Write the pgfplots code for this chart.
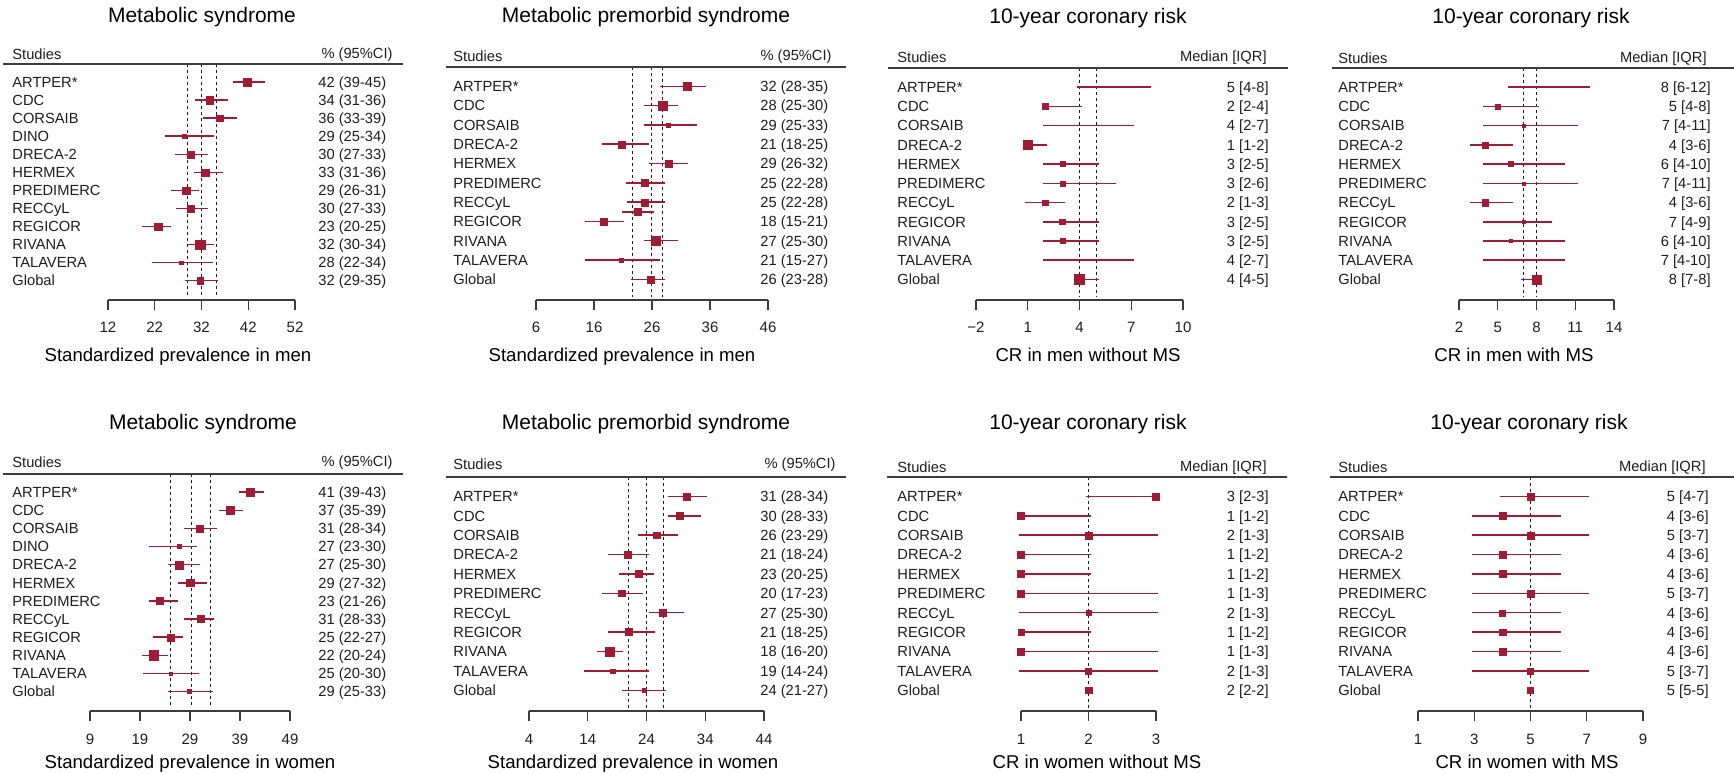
\documentclass[border=0pt]{standalone}
\usepackage{fontspec}
\setmainfont{Liberation Sans}
\usepackage{pgfplots}
\usepackage{pgfplotstable}
\pgfplotsset{compat=1.18}
\definecolor{fpr}{RGB}{160,28,52}
\definecolor{txt}{RGB}{30,30,30}
\definecolor{axc}{RGB}{60,60,60}

% r = -(row index), m = point, lo/hi = interval, s = square side (px)
\pgfplotstableread{
r m lo hi s
0 41.8 39.2 45.1 7.5
-1 33.7 31.0 37.1 7.7
-2 35.8 32.9 39.0 6.8
-3 28.3 24.7 34.1 3.8
-4 29.7 26.9 33.0 6.8
-5 32.8 30.8 36.0 7.3
-6 28.7 25.9 31.0 7.2
-7 29.7 27.1 33.0 7.0
-8 22.7 19.7 25.0 7.2
-9 31.7 29.6 34.1 9.7
-10 27.7 22.0 34.0 3.8
-11 31.7 28.9 35.1 6.8
}\tA
\pgfplotstableread{
r m lo hi s
0 32.0 27.8 34.9 7.8
-1 27.8 25.1 30.0 8.8
-2 28.8 25.1 33.3 4.5
-3 20.7 17.7 25.0 7.0
-4 28.9 25.9 31.8 7.3
-5 24.8 21.9 27.8 7.0
-6 24.8 22.0 27.8 7.0
-6.5 23.5 21.2 25.9 7.0
-7 17.7 14.8 20.8 7.0
-8 26.7 25.1 30.1 9.0
-9 20.7 14.8 27.0 4.0
-10 25.8 22.7 27.8 7.3
}\tB
\pgfplotstableread{
r m lo hi s
0 5 4 8 0
-1 2 2 4 5.8
-2 4 2 7 0
-3 1 1 2 9
-4 3 2 5 5
-5 3 2 6 5
-6 2 1 3 5.5
-7 3 2 5 5.5
-8 3 2 5 5
-9 4 2 7 0
-10 4 4 5 10
}\tC
\pgfplotstableread{
r m lo hi s
0 8 6 12 0
-1 5 4 8 5
-2 7 4 11 3.5
-3 4 3 6 6
-4 6 4 10 5
-5 7 4 11 3
-6 4 3 6 6.5
-7 7 4 9 3
-8 6 4 10 3
-9 7 4 10 0
-10 8 7 8 9
}\tD
\pgfplotstableread{
r m lo hi s
0 41.1 39.3 43.3 8
-1 37.1 35.3 39.2 8
-2 31.0 28.3 34.0 7
-3 26.9 21.3 29.9 4
-4 26.9 25.0 30.5 8
-5 29.0 27.1 31.9 7.5
-6 23.0 21.3 26.2 7
-7 31.1 28.3 33.3 7
-8 25.1 22.1 27.1 7
-9 21.7 19.8 24.1 9.5
-10 25.1 20.0 30.4 3
-11 28.9 25.1 33.1 4
}\tE
\pgfplotstableread{
r m lo hi s
0 30.8 28.1 33.9 6.5
-1 29.6 28.1 32.9 7.5
-2 25.7 22.9 28.9 6.5
-3 20.8 17.8 24.0 7
-4 22.7 19.7 24.8 7
-5 19.8 16.8 23.0 6.5
-6 26.8 24.9 30.0 7
-7 20.9 17.8 25.0 7
-8 17.7 16.0 19.6 9
-9 18.2 13.8 24.0 4.5
-10 23.6 20.3 27.0 4.5
}\tF
\pgfplotstableread{
r m lo hi s
0 3 2 3 7
-1 1 1 2 7
-2 2 1 3 7
-3 1 1 2 7
-4 1 1 2 7
-5 1 1 3 7
-6 2 1 3 5.5
-7 1 1 2 6
-8 1 1 3 7
-9 2 1 3 6
-10 2 2 2 6.5
}\tG
\pgfplotstableread{
r m lo hi s
0 5 4 7 7
-1 4 3 6 7.5
-2 5 3 7 7
-3 4 3 6 7
-4 4 3 6 7
-5 5 3 7 7
-6 4 3 6 6
-7 4 3 6 6.5
-8 4 3 6 6.5
-9 5 3 7 6
-10 5 5 5 6
}\tH

\pgfplotsset{
  fp/.style={scale only axis, anchor=south west, clip=false,
    axis line style={draw=none}, ytick=\empty, tick pos=left, xtick align=outside,
    major tick length=5pt, tick style={draw=axc, line width=0.65pt},
    xticklabel style={font=\fontsize{7.5pt}{9pt}\selectfont, text=txt, anchor=base, yshift=-11.5pt},
    /pgf/number format/assume math mode=true, scaled x ticks=false},
  fpmk/.style={scatter, only marks, mark=square*,
    scatter/use mapped color={draw=fpr, fill=fpr},
    mark options={line width=0.1pt},
    visualization depends on={\thisrow{s}/4 \as \fpmsz},
    scatter/@pre marker code/.append style={/tikz/mark size=\fpmsz}},
  fpeb/.style={draw=none, mark=none,
    error bars/.cd, x dir=both, x explicit,
    error bar style={line width=0.75pt, draw=fpr, solid},
    error mark options={line width=0.75pt, draw=fpr, mark size=1.15pt, solid}},
  dl/.style={draw=txt, line width=0.5pt, dash pattern=on 1.4pt off 1.6pt},
}
\newcommand\fpdata[1]{%
  \addplot[fpeb] table[x=m, y=r, x error minus expr=\thisrow{m}-\thisrow{lo}, x error plus expr=\thisrow{hi}-\thisrow{m}] {#1};
  \addplot[fpmk] table[x=m, y=r] {#1};}
\newcommand\fb{\fontsize{7.35pt}{8.8pt}\selectfont}
\def\namesA{ARTPER*,CDC,CORSAIB,DINO,DRECA-2,HERMEX,PREDIMERC,RECCyL,REGICOR,RIVANA,TALAVERA,Global}
\def\namesB{ARTPER*,CDC,CORSAIB,DRECA-2,HERMEX,PREDIMERC,RECCyL,REGICOR,RIVANA,TALAVERA,Global}

\begin{document}
\begin{tikzpicture}
\path[use as bounding box] (0pt,0pt) rectangle (867pt,-387pt);

% ---------- Panel 1
\begin{axis}[fp, at={(54pt,-150pt)}, width=93.5pt, height=118pt, xmin=12, xmax=52, ymin=-12.07, ymax=1, xtick={12,22,32,42,52}]
\addplot[dl] coordinates {(28.9,1) (28.9,-11.9)};
\addplot[dl] coordinates {(32,1) (32,-11.9)};
\addplot[dl] coordinates {(35.2,1) (35.2,-11.9)};
\fpdata{\tA}
\draw[axc, line width=0.65pt] (axis cs:12,-12.07) -- (axis cs:52,-12.07);
\end{axis}
% ---------- Panel 2
\begin{axis}[fp, at={(268pt,-150pt)}, width=116pt, height=116.5pt, xmin=6, xmax=46, ymin=-11.07, ymax=1, xtick={6,16,26,36,46}]
\addplot[dl] coordinates {(22.6,1) (22.6,-10.9)};
\addplot[dl] coordinates {(25.9,1) (25.9,-10.9)};
\addplot[dl] coordinates {(27.8,1) (27.8,-10.9)};
\fpdata{\tB}
\draw[axc, line width=0.65pt] (axis cs:6,-11.07) -- (axis cs:46,-11.07);
\end{axis}
% ---------- Panel 3
\begin{axis}[fp, at={(488pt,-150pt)}, width=103.5pt, height=116pt, xmin=-2, xmax=10, ymin=-11.07, ymax=1, xtick={-2,1,4,7,10}, xticklabels={−2,1,4,7,10}]
\addplot[dl] coordinates {(4,1) (4,-10.9)};
\addplot[dl] coordinates {(5,1) (5,-10.9)};
\fpdata{\tC}
\draw[axc, line width=0.65pt] (axis cs:-2,-11.07) -- (axis cs:10,-11.07);
\end{axis}
% ---------- Panel 4
\begin{axis}[fp, at={(729.5pt,-150pt)}, width=77.5pt, height=116pt, xmin=2, xmax=14, ymin=-11.07, ymax=1, xtick={2,5,8,11,14}]
\addplot[dl] coordinates {(7,1) (7,-10.9)};
\addplot[dl] coordinates {(8,1) (8,-10.9)};
\fpdata{\tD}
\draw[axc, line width=0.65pt] (axis cs:2,-11.07) -- (axis cs:14,-11.07);
\end{axis}
% ---------- Panel 5
\begin{axis}[fp, at={(45pt,-355.5pt)}, width=100pt, height=118.5pt, xmin=9, xmax=49, ymin=-12.07, ymax=1, xtick={9,19,29,39,49}]
\addplot[dl] coordinates {(25,1) (25,-11.9)};
\addplot[dl] coordinates {(29.2,1) (29.2,-11.9)};
\addplot[dl] coordinates {(33.1,1) (33.1,-11.9)};
\fpdata{\tE}
\draw[axc, line width=0.65pt] (axis cs:9,-12.07) -- (axis cs:49,-12.07);
\end{axis}
% ---------- Panel 6
\begin{axis}[fp, at={(264.5pt,-355.5pt)}, width=117.5pt, height=117pt, xmin=4, xmax=44, ymin=-11.07, ymax=1, xtick={4,14,24,34,44}]
\addplot[dl] coordinates {(20.9,1) (20.9,-10.9)};
\addplot[dl] coordinates {(24,1) (24,-10.9)};
\addplot[dl] coordinates {(26.9,1) (26.9,-10.9)};
\fpdata{\tF}
\draw[axc, line width=0.65pt] (axis cs:4,-11.07) -- (axis cs:44,-11.07);
\end{axis}
% ---------- Panel 7
\begin{axis}[fp, at={(510.5pt,-355.5pt)}, width=67.5pt, height=117pt, xmin=1, xmax=3, ymin=-11.07, ymax=1, xtick={1,2,3}]
\addplot[dl] coordinates {(2,1) (2,-10.9)};
\fpdata{\tG}
\draw[axc, line width=0.65pt] (axis cs:1,-11.07) -- (axis cs:3,-11.07);
\end{axis}
% ---------- Panel 8
\begin{axis}[fp, at={(709pt,-355.5pt)}, width=112.5pt, height=117pt, xmin=1, xmax=9, ymin=-11.07, ymax=1, xtick={1,3,5,7,9}]
\addplot[dl] coordinates {(5,1) (5,-10.9)};
\fpdata{\tH}
\draw[axc, line width=0.65pt] (axis cs:1,-11.07) -- (axis cs:9,-11.07);
\end{axis}

% ---------- texts (pixel coordinates)
\begin{scope}[x=0.5pt, y=-0.5pt,
  rowt/.style={font=\fb, text=txt, inner sep=0pt, text height=5.3pt, text depth=0pt},
  hd/.style={font=\fb, text=txt, inner sep=0pt},
  ttl/.style={font=\fontsize{10.5pt}{12pt}\selectfont, text=black, inner sep=0pt, anchor=base},
  xl/.style={font=\fontsize{9.3pt}{11pt}\selectfont, text=black, inner sep=0pt, anchor=base},
  rl/.style={draw=axc, line width=0.85pt}]
% Panel 1
\node[ttl] at (202,23) {Metabolic syndrome};
\node[hd, anchor=base west] at (12,60) {Studies};
\node[hd, anchor=base east] at (393,59) {\% (95\%CI)};
\draw[rl] (3,64) -- (403,64);
\foreach \t [count=\i from 0] in \namesA {\node[rowt, anchor=west] at (12,{64+(\i+1)*18.057}) {\t};}
\foreach \t [count=\i from 0] in {{42 (39-45)},{34 (31-36)},{36 (33-39)},{29 (25-34)},{30 (27-33)},{33 (31-36)},{29 (26-31)},{30 (27-33)},{23 (20-25)},{32 (30-34)},{28 (22-34)},{32 (29-35)}}
  {\node[rowt, anchor=west] at (318,{64+(\i+1)*18.057}) {\t};}
\node[xl] at (178,361.7) {Standardized prevalence in men};
% Panel 2
\node[ttl] at (646,23) {Metabolic premorbid syndrome};
\node[hd, anchor=base west] at (453,61.7) {Studies};
\node[hd, anchor=base east] at (832,61) {\% (95\%CI)};
\draw[rl] (446,67) -- (846,67);
\foreach \t [count=\i from 0] in \namesB {\node[rowt, anchor=west] at (453,{67+(\i+1)*19.304}) {\t};}
\foreach \t [count=\i from 0] in {{32 (28-35)},{28 (25-30)},{29 (25-33)},{21 (18-25)},{29 (26-32)},{25 (22-28)},{25 (22-28)},{18 (15-21)},{27 (25-30)},{21 (15-27)},{26 (23-28)}}
  {\node[rowt, anchor=west] at (760,{67+(\i+1)*19.304}) {\t};}
\node[xl] at (622,361.7) {Standardized prevalence in men};
% Panel 3
\node[ttl] at (1088,23.3) {10-year coronary risk};
\node[hd, anchor=base west] at (897,62.7) {Studies};
\node[hd, anchor=base east] at (1267,62) {Median [IQR]};
\draw[rl] (888,68) -- (1288,68);
\foreach \t [count=\i from 0] in \namesB {\node[rowt, anchor=west] at (897,{68+(\i+1)*19.221}) {\t};}
\foreach \t [count=\i from 0] in {{5 [4-8]},{2 [2-4]},{4 [2-7]},{1 [1-2]},{3 [2-5]},{3 [2-6]},{2 [1-3]},{3 [2-5]},{3 [2-5]},{4 [2-7]},{4 [4-5]}}
  {\node[rowt, anchor=east] at (1269,{68+(\i+1)*19.221}) {\t};}
\node[xl] at (1088,361.7) {CR in men without MS};
% Panel 4
\node[ttl] at (1531,23.3) {10-year coronary risk};
\node[hd, anchor=base west] at (1338,63.3) {Studies};
\node[hd, anchor=base east] at (1707,62.5) {Median [IQR]};
\draw[rl] (1332,68) -- (1734,68);
\foreach \t [count=\i from 0] in \namesB {\node[rowt, anchor=west] at (1338,{68+(\i+1)*19.221}) {\t};}
\foreach \t [count=\i from 0] in {{8 [6-12]},{5 [4-8]},{7 [4-11]},{4 [3-6]},{6 [4-10]},{7 [4-11]},{4 [3-6]},{7 [4-9]},{6 [4-10]},{7 [4-10]},{8 [7-8]}}
  {\node[rowt, anchor=east] at (1711,{68+(\i+1)*19.221}) {\t};}
\node[xl] at (1514,361.7) {CR in men with MS};
% Panel 5
\node[ttl] at (203,429.5) {Metabolic syndrome};
\node[hd, anchor=base west] at (12,467.3) {Studies};
\node[hd, anchor=base east] at (393,466.5) {\% (95\%CI)};
\draw[rl] (3,474) -- (403,474);
\foreach \t [count=\i from 0] in \namesA {\node[rowt, anchor=west] at (12,{474+(\i+1)*18.133}) {\t};}
\foreach \t [count=\i from 0] in {{41 (39-43)},{37 (35-39)},{31 (28-34)},{27 (23-30)},{27 (25-30)},{29 (27-32)},{23 (21-26)},{31 (28-33)},{25 (22-27)},{22 (20-24)},{25 (20-30)},{29 (25-33)}}
  {\node[rowt, anchor=west] at (318,{474+(\i+1)*18.133}) {\t};}
\node[xl] at (190,768.3) {Standardized prevalence in women};
% Panel 6
\node[ttl] at (646,429.5) {Metabolic premorbid syndrome};
\node[hd, anchor=base west] at (453,470) {Studies};
\node[hd, anchor=base east] at (836,469) {\% (95\%CI)};
\draw[rl] (446,477) -- (846,477);
\foreach \t [count=\i from 0] in \namesB {\node[rowt, anchor=west] at (453,{477+(\i+1)*19.387}) {\t};}
\foreach \t [count=\i from 0] in {{31 (28-34)},{30 (28-33)},{26 (23-29)},{21 (18-24)},{23 (20-25)},{20 (17-23)},{27 (25-30)},{21 (18-25)},{18 (16-20)},{19 (14-24)},{24 (21-27)}}
  {\node[rowt, anchor=west] at (760,{477+(\i+1)*19.387}) {\t};}
\node[xl] at (633,768.3) {Standardized prevalence in women};
% Panel 7
\node[ttl] at (1088,429.5) {10-year coronary risk};
\node[hd, anchor=base west] at (897,472.7) {Studies};
\node[hd, anchor=base east] at (1267,472) {Median [IQR]};
\draw[rl] (887,477) -- (1287,477);
\foreach \t [count=\i from 0] in \namesB {\node[rowt, anchor=west] at (897,{477+(\i+1)*19.387}) {\t};}
\foreach \t [count=\i from 0] in {{3 [2-3]},{1 [1-2]},{2 [1-3]},{1 [1-2]},{1 [1-2]},{1 [1-3]},{2 [1-3]},{1 [1-2]},{1 [1-3]},{2 [1-3]},{2 [2-2]}}
  {\node[rowt, anchor=east] at (1269,{477+(\i+1)*19.387}) {\t};}
\node[xl] at (1097,768.3) {CR in women without MS};
% Panel 8
\node[ttl] at (1529,429.5) {10-year coronary risk};
\node[hd, anchor=base west] at (1338,472.3) {Studies};
\node[hd, anchor=base east] at (1706,472) {Median [IQR]};
\draw[rl] (1330,477) -- (1734,477);
\foreach \t [count=\i from 0] in \namesB {\node[rowt, anchor=west] at (1338,{477+(\i+1)*19.387}) {\t};}
\foreach \t [count=\i from 0] in {{5 [4-7]},{4 [3-6]},{5 [3-7]},{4 [3-6]},{4 [3-6]},{5 [3-7]},{4 [3-6]},{4 [3-6]},{4 [3-6]},{5 [3-7]},{5 [5-5]}}
  {\node[rowt, anchor=east] at (1709,{477+(\i+1)*19.387}) {\t};}
\node[xl] at (1527,768.3) {CR in women with MS};
\end{scope}
\end{tikzpicture}
\end{document}
